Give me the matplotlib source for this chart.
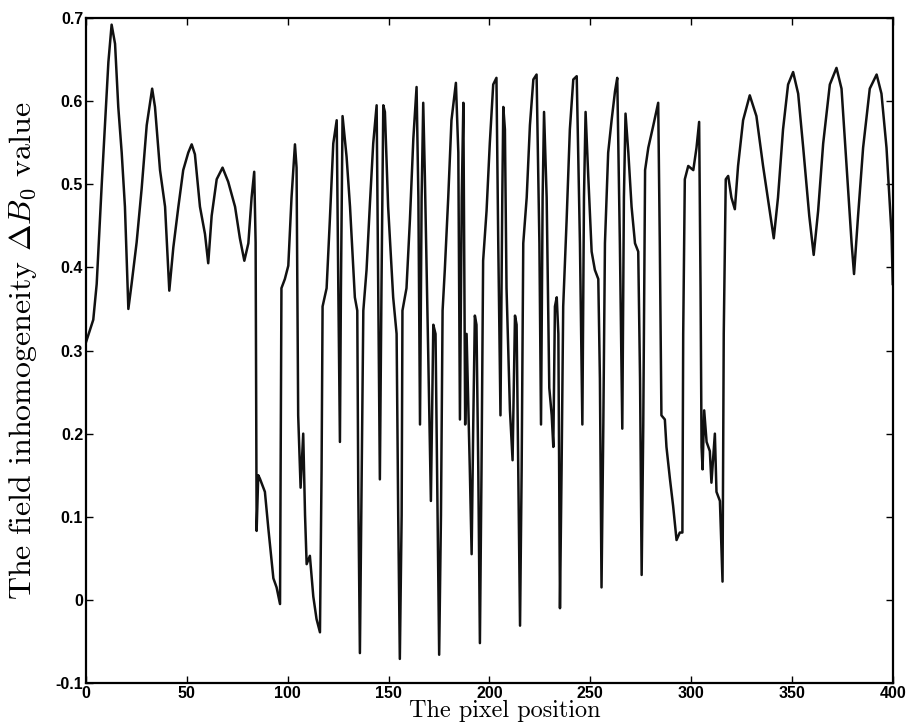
import matplotlib
matplotlib.use("Agg")
import matplotlib.pyplot as plt
import matplotlib.ticker as mticker

# traced profile of the field inhomogeneity along the pixel row
pixel = [
    0, 3.6, 5.3, 7.8, 9.4, 11.1, 12.7, 14.4, 16.0, 17.7, 19.3, 21.0,
    22.6, 25.1, 27.6, 30.1, 32.8, 34.2, 36.7, 39.2, 41.3, 43.3, 45.8, 48.2,
    50.7, 52.4, 54.0, 56.5, 59.0, 60.6, 62.3, 64.8, 67.7, 70.5, 73.9, 76.3,
    78.5, 80.5, 82.1, 83.4, 84.1, 84.6, 85.4, 86.2, 88.7, 90.4, 92.0, 92.9,
    94.5, 96.2, 96.9, 98.6, 100.3, 101.9, 103.6, 104.4, 105.2, 106.4, 107.7,
    108.6, 109.4, 111.0, 112.7, 114.3, 116.0, 116.8, 117.3, 119.3, 120.9,
    122.6, 124.3, 125.1, 125.9, 126.4, 127.2, 129.2, 130.9, 133.3, 134.5,
    135.0, 135.8, 136.6, 137.5, 139.1, 140.8, 142.4, 144.1, 144.9, 145.7,
    146.5, 147.4, 148.2, 149.8, 152.3, 154.0, 154.8, 155.6, 156.5, 156.9,
    158.9, 160.6, 162.3, 163.9, 164.8, 165.6, 166.4, 167.2, 168.0, 169.7,
    171.0, 172.2, 173.3, 174.3, 175.1, 176.0, 176.8, 177.9, 179.6, 181.2,
    183.4, 184.6, 185.4, 186.3, 187.1, 188.0, 188.7, 190.3, 191.2, 192.0,
    192.8, 193.6, 194.5, 195.3, 196.1, 196.9, 198.6, 200.2, 201.9, 203.5,
    204.4, 205.5, 206.4, 206.9, 207.7, 208.5, 210.2, 211.5, 212.7, 213.5,
    214.3, 215.2, 216.0, 216.8, 218.5, 220.1, 221.8, 223.4, 224.8, 225.6,
    226.4, 227.1, 228.4, 229.7, 230.9, 231.7, 232.5, 233.4, 234.2, 235.0,
    235.8, 236.6, 238.3, 239.9, 241.6, 243.3, 244.9, 246.1, 246.9, 247.7,
    249.0, 250.7, 252.3, 254.0, 254.8, 255.6, 256.5, 257.3, 258.9, 260.6,
    262.3, 263.4, 264.7, 265.9, 266.7, 267.5, 268.9, 270.5, 272.2, 273.8,
    274.7, 275.5, 276.3, 277.2, 278.8, 281.3, 283.7, 284.5, 285.3, 287.0,
    287.8, 289.5, 291.1, 292.8, 294.4, 295.7, 296.1, 296.9, 298.6, 301.1,
    302.7, 304.0, 304.7, 305.2, 305.7, 306.5, 307.7, 309.3, 310.1, 311.8,
    312.6, 314.3, 315.6, 316.2, 317.2, 318.4, 320.0, 321.7, 323.3, 325.8,
    329.1, 332.4, 335.7, 339.0, 341.0, 343.1, 345.6, 348.1, 350.6, 353.1,
    355.6, 358.6, 360.8, 363.0, 365.5, 368.8, 372.1, 374.6, 377.1, 379.6,
    380.8, 382.8, 385.3, 388.6, 392.0, 394.4, 396.9, 399.4, 400,
]
delta_b0 = [
    0.31, 0.337, 0.38, 0.50, 0.571, 0.647, 0.692, 0.669, 0.593, 0.538, 0.473, 0.350,
    0.38, 0.43, 0.495, 0.571, 0.615, 0.593, 0.517, 0.473, 0.372, 0.424, 0.473, 0.517,
    0.538, 0.548, 0.536, 0.473, 0.44, 0.405, 0.462, 0.506, 0.520, 0.503, 0.473, 0.435,
    0.408, 0.429, 0.484, 0.515, 0.43, 0.083, 0.15, 0.146, 0.13, 0.086, 0.048, 0.026,
    0.015, -0.005, 0.375, 0.386, 0.402, 0.484, 0.548, 0.52, 0.222, 0.135, 0.20,
    0.102, 0.043, 0.053, 0.004, -0.023, -0.039, 0.157, 0.353, 0.375, 0.457,
    0.549, 0.577, 0.375, 0.19, 0.375, 0.582, 0.533, 0.473, 0.364, 0.348,
    0.13, -0.064, 0.13, 0.348, 0.397, 0.478, 0.549, 0.595, 0.375, 0.145,
    0.375, 0.595, 0.587, 0.473, 0.364, 0.32, 0.102, -0.071, 0.102, 0.348,
    0.375, 0.457, 0.555, 0.617, 0.484, 0.211, 0.484, 0.598, 0.511, 0.293,
    0.119, 0.331, 0.32, 0.102, -0.066, 0.102, 0.348, 0.397, 0.484, 0.577,
    0.622, 0.538, 0.217, 0.484, 0.598, 0.211, 0.32, 0.157, 0.055, 0.211,
    0.342, 0.331, 0.157, -0.052, 0.157, 0.408, 0.468, 0.549, 0.62, 0.628,
    0.429, 0.222, 0.484, 0.593, 0.566, 0.375, 0.228, 0.168, 0.342, 0.331,
    0.157, -0.031, 0.157, 0.429, 0.484, 0.571, 0.626, 0.632, 0.429, 0.211,
    0.484, 0.587, 0.484, 0.255, 0.222, 0.184, 0.353, 0.364, 0.32, -0.01,
    0.157, 0.353, 0.457, 0.566, 0.626, 0.630, 0.429, 0.211, 0.484, 0.587,
    0.511, 0.419, 0.397, 0.386, 0.266, 0.015, 0.211, 0.429, 0.538, 0.577,
    0.612, 0.628, 0.429, 0.206, 0.484, 0.585, 0.538, 0.473, 0.429, 0.419,
    0.266, 0.03, 0.211, 0.517, 0.544, 0.571, 0.598, 0.429, 0.222, 0.217,
    0.184, 0.146, 0.113, 0.072, 0.081, 0.081, 0.32, 0.506, 0.522, 0.517,
    0.544, 0.575, 0.375, 0.184, 0.157, 0.228, 0.19, 0.179, 0.141, 0.2,
    0.13, 0.119, 0.022, 0.32, 0.506, 0.51, 0.484, 0.47, 0.522, 0.577,
    0.607, 0.582, 0.522, 0.468, 0.435, 0.484, 0.566, 0.62, 0.635, 0.609,
    0.544, 0.462, 0.415, 0.468, 0.549, 0.62, 0.640, 0.615, 0.522, 0.429,
    0.392, 0.462, 0.544, 0.615, 0.632, 0.609, 0.544, 0.44, 0.38,
]

x_ticks = [0, 50, 100, 150, 200, 250, 300, 350, 400]
y_ticks = [-0.1, 0, 0.1, 0.2, 0.3, 0.4, 0.5, 0.6, 0.7]
y_tick_labels = ["-0.1", "0", "0.1", "0.2", "0.3", "0.4", "0.5", "0.6", "0.7"]

plt.rcParams["mathtext.fontset"] = "cm"

fig = plt.figure(figsize=(9.12, 7.23), dpi=100)
ax = fig.add_axes([0.0943, 0.0553, 0.8846, 0.9198])

ax.plot(pixel, delta_b0, color="#111111", linewidth=1.8)

ax.set_xlim(0, 400)
ax.set_ylim(-0.1, 0.7)
ax.set_xticks(x_ticks)
ax.set_yticks(y_ticks)
ax.yaxis.set_major_formatter(mticker.FixedFormatter(y_tick_labels))

ax.tick_params(direction="in", top=True, right=True, length=5, width=1,
               labelsize=11.5, pad=2)
for lbl in ax.get_xticklabels() + ax.get_yticklabels():
    lbl.set_fontfamily("Liberation Sans")
    lbl.set_fontweight("bold")
for spine in ax.spines.values():
    spine.set_linewidth(1.6)

ax.set_xlabel("The pixel position", fontfamily="cmr10", fontsize=17.5,
              va="bottom")
ax.xaxis.set_label_coords(0.519, -0.059)
ax.set_ylabel(r"The field inhomogeneity $\Delta B_0$ value", fontfamily="cmr10",
              fontsize=23)
ax.yaxis.set_label_coords(-0.058, 0.5)

fig.savefig("out.png", dpi=100)
